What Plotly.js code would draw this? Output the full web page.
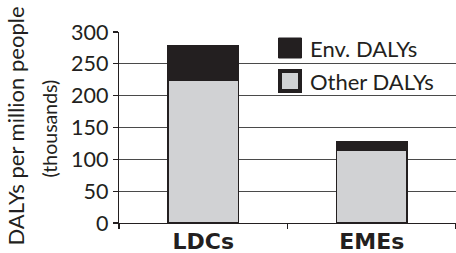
<!DOCTYPE html>
<html><head><meta charset="utf-8">
<script src="https://cdn.plot.ly/plotly-3.0.1.min.js"></script>
<style>html,body{margin:0;padding:0;background:#fff}#c{width:456px;height:253px}</style>
</head><body><div id="c"></div>
<script>
const categories = ['LDCs', 'EMEs'];
const otherDALYs = [225, 115];
const envDALYs = [53, 12];
const seriesNames = ['Env. DALYs', 'Other DALYs'];
const yTicks = [0, 50, 100, 150, 200, 250, 300];

const ink = '#231f20';
const grey = '#d1d2d4';
const font = 'Lato, "Open Sans", sans-serif';

const traces = [
  {type:'bar', x:categories.map(c=>'<b>'+c+'</b>'), y:otherDALYs, name:seriesNames[1], width:0.42,
   marker:{color:grey, line:{color:ink, width:1.5}}, showlegend:false, hoverinfo:'skip'},
  {type:'bar', x:categories.map(c=>'<b>'+c+'</b>'), y:envDALYs, name:seriesNames[0], width:0.42,
   marker:{color:ink, line:{color:ink, width:1.5}}, showlegend:false, hoverinfo:'skip'}
];

const px = v => (v-119)/337, py = v => (223-v)/191;

const layout = {
  width:456, height:253,
  margin:{l:119, r:0, t:32, b:30},
  barmode:'stack',
  paper_bgcolor:'#fff', plot_bgcolor:'#fff',
  font:{family:font, color:ink},
  xaxis:{type:'category', range:[-0.5,1.5], showline:true, linecolor:ink, linewidth:1.2,
    ticks:'outside', tickson:'boundaries', ticklen:5, tickcolor:ink, tickwidth:1.2,
    tickfont:{size:22, color:ink, family:'"DejaVu Sans", sans-serif'}, ticklabelstandoff:-2,
    showgrid:false, zeroline:false, fixedrange:true},
  yaxis:{range:[0,300], tickvals:yTicks, ticktext:yTicks.map(String), showline:true, linecolor:ink, linewidth:1.2,
    ticks:'outside', ticklen:5, tickcolor:ink, tickwidth:1.2,
    tickfont:{size:21.5, color:ink}, showgrid:true, gridcolor:'#4a4a4a', gridwidth:1, zeroline:false, fixedrange:true},
  shapes:[
    {type:'rect', xref:'paper', yref:'paper', x0:px(278.5), x1:px(301.5), y0:py(58), y1:py(38),
     fillcolor:ink, line:{color:ink, width:1}},
    {type:'rect', xref:'paper', yref:'paper', x0:px(280), x1:px(300), y0:py(91), y1:py(71),
     fillcolor:grey, line:{color:ink, width:4}}
  ],
  annotations:[
    {xref:'paper', yref:'paper', x:px(308), y:py(48), xanchor:'left', yanchor:'middle',
     text:seriesNames[0], showarrow:false, font:{size:22, color:ink}},
    {xref:'paper', yref:'paper', x:px(308), y:py(81.5), xanchor:'left', yanchor:'middle',
     text:seriesNames[1], showarrow:false, font:{size:22, color:ink}},
    {xref:'paper', yref:'paper', x:px(15), y:py(126.5), xanchor:'center', yanchor:'middle',
     text:'DALYs per million people', textangle:-90, showarrow:false, font:{size:22, color:ink}},
    {xref:'paper', yref:'paper', x:px(49), y:py(128.5), xanchor:'center', yanchor:'middle',
     text:'(thousands)', textangle:-90, showarrow:false, font:{size:19.5, color:ink}}
  ]
};
Plotly.newPlot('c', traces, layout, {displayModeBar:false, staticPlot:true});
</script></body></html>
